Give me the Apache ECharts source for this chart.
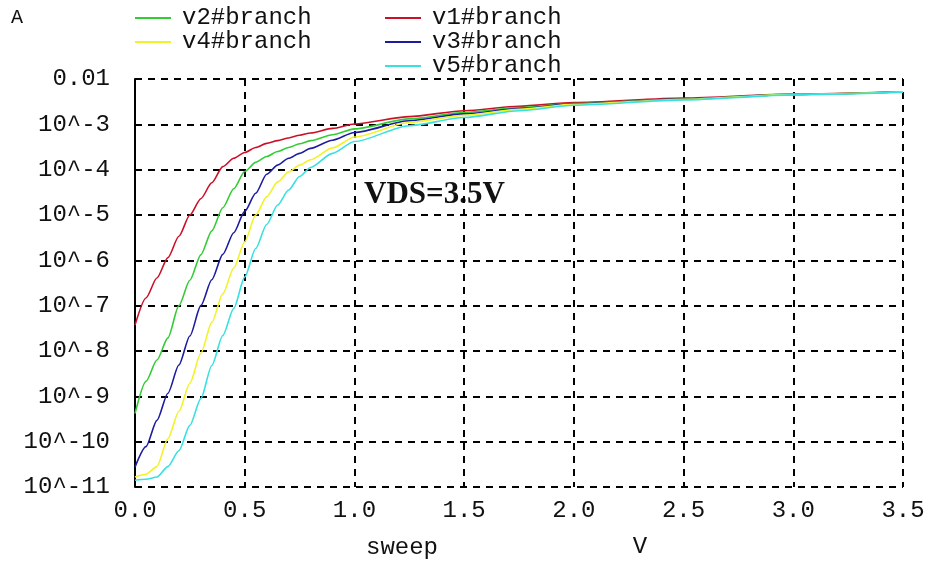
<!DOCTYPE html>
<html>
<head>
<meta charset="utf-8">
<script src="https://cdn.jsdelivr.net/npm/echarts@6/dist/echarts.min.js"></script>
<style>
html,body{margin:0;padding:0;background:#fff;}
#chart{width:931px;height:563px;}
</style>
</head>
<body>
<div id="chart"></div>
<script>
// sweep voltage (V)
const sweep = [0, 0.05, 0.1, 0.15, 0.2, 0.25, 0.3, 0.35, 0.4, 0.45, 0.5, 0.55, 0.6, 0.65, 0.7, 0.75, 0.8, 0.9, 1.0, 1.25, 1.5, 1.75, 2.0, 2.5, 3.0, 3.5];
// branch currents (A)
const v1 = [3.72e-8, 1.48e-7, 4.07e-7, 1.15e-6, 3.39e-6, 1.0e-5, 2.29e-5, 5.13e-5, 1.17e-4, 1.78e-4, 2.40e-4, 3.09e-4, 3.80e-4, 4.37e-4, 5.01e-4, 5.75e-4, 6.46e-4, 8.13e-4, 1.02e-3, 1.48e-3, 2.0e-3, 2.51e-3, 3.02e-3, 3.80e-3, 4.68e-3, 5.25e-3];
const v2 = [4.17e-10, 2.14e-9, 6.31e-9, 1.95e-8, 1.0e-7, 3.63e-7, 1.32e-6, 4.47e-6, 1.45e-5, 3.80e-5, 9.12e-5, 1.45e-4, 1.95e-4, 2.51e-4, 3.09e-4, 3.72e-4, 4.37e-4, 5.89e-4, 7.94e-4, 1.32e-3, 1.82e-3, 2.34e-3, 2.88e-3, 3.63e-3, 4.57e-3, 5.25e-3];
const v3 = [2.75e-11, 7.76e-11, 2.95e-10, 1.17e-9, 4.90e-9, 2.14e-8, 1.0e-7, 3.72e-7, 1.35e-6, 4.07e-6, 1.20e-5, 3.02e-5, 7.94e-5, 1.26e-4, 1.78e-4, 2.29e-4, 2.95e-4, 4.47e-4, 6.61e-4, 1.20e-3, 1.70e-3, 2.24e-3, 2.82e-3, 3.63e-3, 4.57e-3, 5.25e-3];
const v4 = [1.66e-11, 1.91e-11, 2.82e-11, 1.17e-10, 4.68e-10, 1.95e-9, 8.91e-9, 4.27e-8, 1.82e-7, 6.76e-7, 2.57e-6, 1.0e-5, 2.51e-5, 5.37e-5, 8.91e-5, 1.26e-4, 1.66e-4, 3.02e-4, 5.25e-4, 1.10e-3, 1.58e-3, 2.14e-3, 2.75e-3, 3.55e-3, 4.57e-3, 5.25e-3];
const v5 = [1.41e-11, 1.48e-11, 1.66e-11, 2.82e-11, 6.31e-11, 2.29e-10, 8.91e-10, 4.79e-9, 2.19e-8, 8.71e-8, 4.27e-7, 1.82e-6, 6.17e-6, 1.66e-5, 3.55e-5, 7.08e-5, 1.12e-4, 2.29e-4, 4.17e-4, 9.33e-4, 1.41e-3, 2.0e-3, 2.63e-3, 3.47e-3, 4.47e-3, 5.13e-3];
// tick labels
const yTickLabels = {'-11':'10^-11','-10':'10^-10','-9':'10^-9','-8':'10^-8','-7':'10^-7','-6':'10^-6','-5':'10^-5','-4':'10^-4','-3':'10^-3','-2':'0.01'};
const seriesNames = ['v1#branch', 'v2#branch', 'v3#branch', 'v4#branch', 'v5#branch'];
const seriesColors = ['#cc1028', '#33cc33', '#1c1ca0', '#f2f228', '#38e0e0'];
const seriesData = [v1, v2, v3, v4, v5];

const MONO = '"Liberation Mono", "DejaVu Sans Mono", monospace';
const chart = echarts.init(document.getElementById('chart'), null, {renderer: 'canvas'});

const legendCommon = {
  orient: 'vertical',
  icon: 'rect',
  itemWidth: 36,
  itemHeight: 2,
  itemGap: 0,
  padding: 0,
  textStyle: {fontFamily: MONO, fontSize: 24, color: '#111', lineHeight: 23.5, padding: [0, 0, 0, 6]}
};

chart.setOption({
  backgroundColor: '#ffffff',
  animation: false,
  grid: {left: 135, right: 28, top: 79, bottom: 76, containLabel: false},
  legend: [
    Object.assign({left: 135, top: 6, data: ['v2#branch', 'v4#branch']}, legendCommon),
    Object.assign({left: 385, top: 6, data: ['v1#branch', 'v3#branch', 'v5#branch']}, legendCommon)
  ],
  xAxis: {
    type: 'value', min: 0, max: 3.5, interval: 0.5,
    axisLine: {show: false},
    axisTick: {show: false},
    axisLabel: {fontFamily: MONO, fontSize: 24, color: '#111', margin: 12,
      formatter: v => v.toFixed(1)},
    splitLine: {show: true, lineStyle: {color: '#000', width: 2, type: [7, 6]}}
  },
  yAxis: {
    type: 'log', logBase: 10, min: 1e-11, max: 0.01, splitNumber: 10,
    axisLine: {show: true, lineStyle: {color: '#000', width: 2}},
    axisTick: {show: false},
    axisLabel: {fontFamily: MONO, fontSize: 24, color: '#111', margin: 25,
      formatter: v => yTickLabels[String(Math.round(Math.log10(v)))] || ''},
    splitLine: {show: true, lineStyle: {color: '#000', width: 2, type: [7, 6]}}
  },
  series: seriesNames.map((name, i) => ({
    name: name,
    type: 'line',
    data: sweep.map((x, j) => [x, seriesData[i][j]]),
    showSymbol: false,
    symbol: 'none',
    smooth: 0.25,
    smoothMonotone: 'x',
    color: seriesColors[i],
    lineStyle: {color: seriesColors[i], width: 1.6}
  })),
  graphic: [
    {type: 'text', x: 17, y: 18, style: {text: 'A', font: '20px "Liberation Mono"', fill: '#111', align: 'center', verticalAlign: 'middle'}},
    {type: 'text', x: 402, y: 548, style: {text: 'sweep', font: '24px "Liberation Mono"', fill: '#111', align: 'center', verticalAlign: 'middle'}},
    {type: 'text', x: 640, y: 547, style: {text: 'V', font: '24px "Liberation Mono"', fill: '#111', align: 'center', verticalAlign: 'middle'}},
    {type: 'text', x: 364, y: 195, style: {text: 'VDS=3.5V', font: 'bold 31px "Liberation Serif"', fill: '#111', align: 'left', verticalAlign: 'middle'}}
  ]
});
</script>
</body>
</html>
